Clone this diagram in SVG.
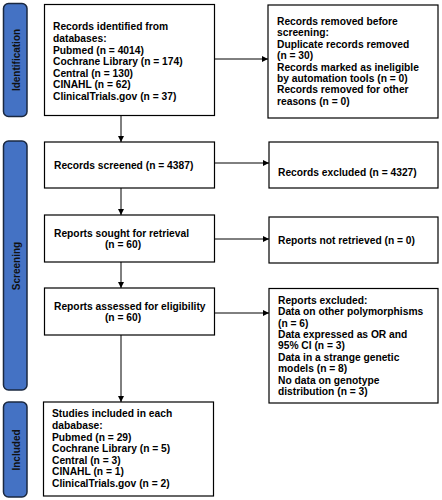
<svg xmlns="http://www.w3.org/2000/svg" width="442" height="500" viewBox="0 0 442 500">
<defs>
<marker id="ah" viewBox="0 0 10 10" refX="10" refY="5" markerWidth="6" markerHeight="6" markerUnits="userSpaceOnUse" orient="auto"><path d="M0,0 L10,5 L0,10 Z" fill="#000"/></marker>
<style>
.box{fill:#fff;stroke:#000;stroke-width:1.2}
.bar{fill:#4472C4;stroke:#1a2840;stroke-width:1.5}
.t{font-family:"Liberation Sans",Arial,sans-serif;font-weight:bold;font-size:10.25px;fill:#000}
.bt{font-family:"Liberation Sans",Arial,sans-serif;font-weight:bold;font-size:10px;fill:#111}
.c{stroke:#000;stroke-width:1;fill:none;marker-end:url(#ah)}
</style>
</defs>
<rect width="442" height="500" fill="#fff"/>
<g id="bar-identification"><rect class="bar" x="3.5" y="3.5" width="23.5" height="113" rx="5"/><text class="bt" transform="translate(19.5,60) rotate(-90)" text-anchor="middle">Identification</text></g>
<g id="bar-screening"><rect class="bar" x="3.5" y="141" width="23.5" height="249" rx="5"/><text class="bt" transform="translate(19.5,266) rotate(-90)" text-anchor="middle">Screening</text></g>
<g id="bar-included"><rect class="bar" x="3.5" y="402" width="23.5" height="95" rx="5"/><text class="bt" transform="translate(19.5,450) rotate(-90)" text-anchor="middle">Included</text></g>
<g id="connectors">
<line class="c" x1="121" y1="115.5" x2="121" y2="142"/>
<line class="c" x1="214" y1="59" x2="268" y2="59"/>
<line class="c" x1="214" y1="163" x2="269" y2="163"/>
<line class="c" x1="121" y1="188" x2="121" y2="215"/>
<line class="c" x1="214" y1="239" x2="269" y2="239"/>
<line class="c" x1="121" y1="262" x2="121" y2="288"/>
<line class="c" x1="214" y1="313" x2="269" y2="313"/>
<line class="c" x1="121" y1="335" x2="121" y2="402"/>
</g>
<g id="identified"><rect class="box" x="44.5" y="4.5" width="170" height="111"/>
<text class="t" x="53" y="30">Records identified from</text>
<text class="t" x="53" y="41.5">databases:</text>
<text class="t" x="53" y="53.5">Pubmed (n = 4014)</text>
<text class="t" x="53" y="65">Cochrane Library (n = 174)</text>
<text class="t" x="53" y="76.5">Central (n = 130)</text>
<text class="t" x="53" y="88">CINAHL (n = 62)</text>
<text class="t" x="53" y="99.5">ClinicalTrials.gov (n = 37)</text>
</g>
<g id="removed"><rect class="box" x="268" y="5" width="170" height="113"/>
<text class="t" x="277" y="24.5">Records removed before</text>
<text class="t" x="277" y="36">screening:</text>
<text class="t" x="277" y="47.5">Duplicate records removed</text>
<text class="t" x="277" y="58.5">(n = 30)</text>
<text class="t" x="277" y="70.5">Records marked as ineligible</text>
<text class="t" x="277" y="82">by automation tools (n = 0)</text>
<text class="t" x="277" y="93">Records removed for other</text>
<text class="t" x="277" y="104.5">reasons (n = 0)</text>
</g>
<g id="screened"><rect class="box" x="44.5" y="142" width="170" height="46"/>
<text class="t" x="54" y="169">Records screened (n = 4387)</text>
</g>
<g id="excluded"><rect class="box" x="269" y="142" width="169" height="46"/>
<text class="t" x="278" y="176">Records excluded (n = 4327)</text>
</g>
<g id="sought"><rect class="box" x="44.5" y="215" width="170" height="47"/>
<text class="t" x="54" y="236.5">Reports sought for retrieval</text>
<text class="t" x="123" y="247.5" text-anchor="middle">(n = 60)</text>
</g>
<g id="not-retrieved"><rect class="box" x="269" y="217" width="169" height="46"/>
<text class="t" x="278" y="244">Reports not retrieved (n = 0)</text>
</g>
<g id="assessed"><rect class="box" x="44.5" y="288" width="170" height="47"/>
<text class="t" x="54" y="309.5">Reports assessed for eligibility</text>
<text class="t" x="123" y="320.5" text-anchor="middle">(n = 60)</text>
</g>
<g id="reports-excluded"><rect class="box" x="269" y="288.5" width="169" height="114.5"/>
<text class="t" x="278" y="303.5">Reports excluded:</text>
<text class="t" x="278" y="315">Data on other polymorphisms</text>
<text class="t" x="278" y="326.5">(n = 6)</text>
<text class="t" x="278" y="338">Data expressed as OR and</text>
<text class="t" x="278" y="349">95% CI (n = 3)</text>
<text class="t" x="278" y="360.5">Data in a strange genetic</text>
<text class="t" x="278" y="372">models (n = 8)</text>
<text class="t" x="278" y="383.5">No data on genotype</text>
<text class="t" x="278" y="395">distribution  (n = 3)</text>
</g>
<g id="included"><rect class="box" x="43.5" y="402" width="170" height="94"/>
<text class="t" x="52" y="417">Studies included in each</text>
<text class="t" x="52" y="428.5">dababase:</text>
<text class="t" x="52" y="440.5">Pubmed (n = 29)</text>
<text class="t" x="52" y="452">Cochrane Library (n = 5)</text>
<text class="t" x="52" y="463.5">Central (n = 3)</text>
<text class="t" x="52" y="475">CINAHL (n = 1)</text>
<text class="t" x="52" y="487">ClinicalTrials.gov (n = 2)</text>
</g>
</svg>
